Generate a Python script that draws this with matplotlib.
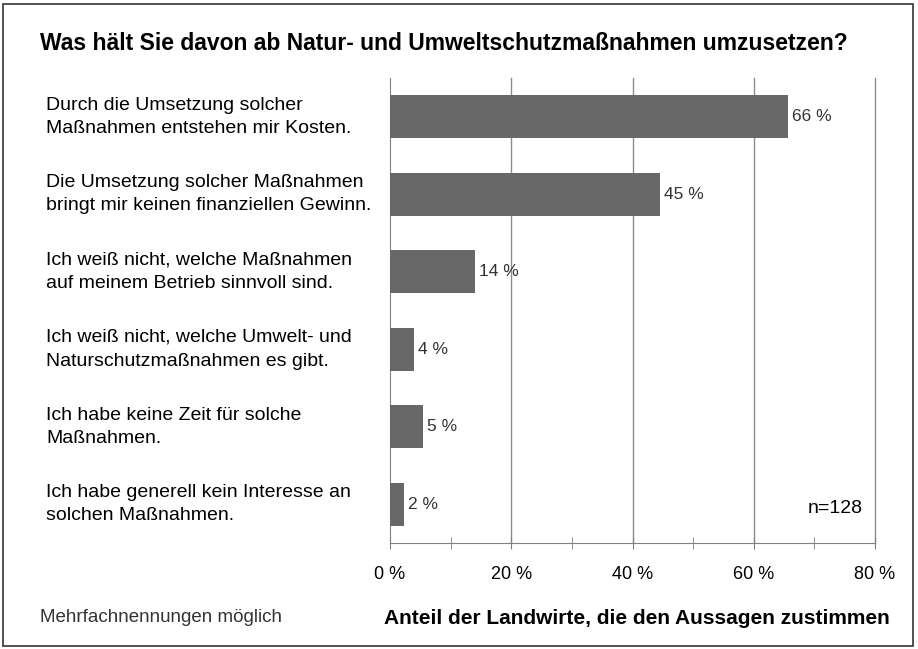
import matplotlib.pyplot as plt
from matplotlib.patches import Rectangle

# Antworten (Reihenfolge von oben nach unten)
aussagen = [
    "Durch die Umsetzung solcher\nMaßnahmen entstehen mir Kosten.",
    "Die Umsetzung solcher Maßnahmen\nbringt mir keinen finanziellen Gewinn.",
    "Ich weiß nicht, welche Maßnahmen\nauf meinem Betrieb sinnvoll sind.",
    "Ich weiß nicht, welche Umwelt- und\nNaturschutzmaßnahmen es gibt.",
    "Ich habe keine Zeit für solche\nMaßnahmen.",
    "Ich habe generell kein Interesse an\nsolchen Maßnahmen.",
]
anzahl = [84, 57, 18, 5, 7, 3]
n = 128
xticks = [0, 20, 40, 60, 80]
minor_ticks = [10, 30, 50, 70]

plt.rcParams['font.family'] = ['Liberation Sans', 'DejaVu Sans']


def main():
    anteil = [a / n * 100 for a in anzahl]
    ypos = list(range(len(aussagen)))[::-1]

    fig = plt.figure(figsize=(9.18, 6.49), dpi=100)
    ax = fig.add_axes([390 / 918, 1 - 543 / 649, 485 / 918, 465 / 649])

    ax.barh(ypos, anteil, height=0.56, color='#686868', zorder=3)
    for y, v in zip(ypos, anteil):
        ax.text(v + 0.7, y, "%d %%" % round(v), va='center', ha='left',
                fontsize=12.5, color='#333333', zorder=4)

    ax.set_xlim(0, 80)
    ax.set_ylim(-0.5, len(aussagen) - 0.5)
    ax.set_xticks(xticks)
    ax.set_xticklabels(["%d %%" % t for t in xticks], fontsize=13)
    ax.set_xticks(minor_ticks, minor=True)
    ax.tick_params(axis='x', which='both', direction='inout', length=9,
                   color='#808080', pad=12)
    ax.set_yticks([])
    for t in xticks[1:]:
        ax.axvline(t, color='#8c8c8c', linewidth=1, zorder=0, clip_on=False)

    for side in ['top', 'right']:
        ax.spines[side].set_visible(False)
    ax.spines['left'].set_color('#808080')
    ax.spines['bottom'].set_color('#808080')

    for y, txt in zip(ypos, aussagen):
        ax.text(-56.7, y, txt, ha='left', va='center', fontsize=14,
                linespacing=1.5)

    ax.text(73.5, -0.05, "n=%d" % n, ha='center', va='center', fontsize=14)

    fig.text(40 / 918, 1 - 44 / 649,
             "Was hält Sie davon ab Natur- und Umweltschutzmaßnahmen umzusetzen?",
             fontsize=16.5, fontweight='bold', ha='left', va='center')
    fig.text(40 / 918, 1 - 618 / 649, "Mehrfachnennungen möglich",
             fontsize=13.5, ha='left', va='center', color='#333333')
    fig.text(637 / 918, 1 - 618 / 649,
             "Anteil der Landwirte, die den Aussagen zustimmen",
             fontsize=15, fontweight='bold', ha='center', va='center')

    fig.patches.append(Rectangle((3 / 918, 3 / 649), 910 / 918, 642 / 649,
                                 transform=fig.transFigure, fill=False,
                                 edgecolor='#333333', linewidth=1.2))

    fig.savefig("out.png", dpi=100)


if __name__ == "__main__":
    main()
